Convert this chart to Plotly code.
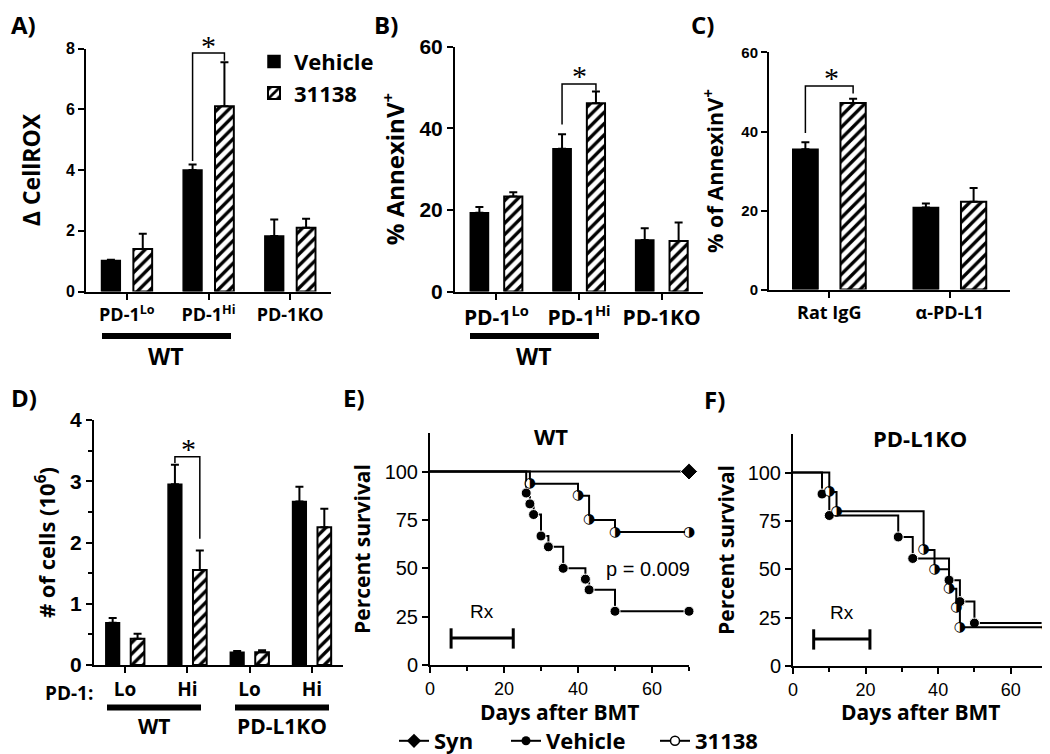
import plotly.graph_objects as go

W, H = 1050, 754


def fx(p):
    return p / W


def fy(p):
    return 1 - p / H


# ------------------------------------------------------------------ data
a_categories = ["PD-1<sup>Lo</sup>", "PD-1<sup>Hi</sup>", "PD-1KO"]
a_vehicle = [1.02, 4.0, 1.83]
a_vehicle_err = [0.03, 0.18, 0.54]
a_31138 = [1.40, 6.10, 2.10]
a_31138_err = [0.50, 1.45, 0.30]

b_categories = ["PD-1<sup>Lo</sup>", "PD-1<sup>Hi</sup>", "PD-1KO"]
b_vehicle = [19.3, 35.0, 12.6]
b_vehicle_err = [1.4, 3.5, 2.9]
b_31138 = [23.3, 46.1, 12.4]
b_31138_err = [1.0, 2.9, 4.5]

c_categories = ["Rat IgG", "α-PD-L1"]
c_vehicle = [35.5, 20.8]
c_vehicle_err = [1.8, 1.0]
c_31138 = [47.2, 22.2]
c_31138_err = [1.1, 3.5]

d_categories = ["Lo", "Hi", "Lo", "Hi"]
d_vehicle = [0.69, 2.95, 0.21, 2.67]
d_vehicle_err = [0.08, 0.32, 0.02, 0.24]
d_31138 = [0.43, 1.55, 0.21, 2.25]
d_31138_err = [0.08, 0.32, 0.03, 0.30]

# survival (WT)
e_syn_days = [0, 70]
e_syn_surv = [100, 100]
e_vehicle_days = [0, 26, 27, 28, 30, 32, 36, 42, 43, 50, 70]
e_vehicle_surv = [100, 88.9, 83.3, 77.8, 66.7, 61.1, 50.0, 44.4, 38.9, 27.8, 27.8]
e_31138_days = [0, 27, 40, 43, 50, 70]
e_31138_surv = [100, 93.75, 87.5, 75.0, 68.75, 68.75]

# survival (PD-L1KO)
f_vehicle_days = [0, 8, 10, 29, 33, 43, 46, 50, 70]
f_vehicle_surv = [100, 88.9, 77.8, 66.7, 55.6, 44.4, 33.3, 22.2, 22.2]
f_31138_days = [0, 10, 12, 36, 39, 43, 45, 46, 70]
f_31138_surv = [100, 90, 80, 60, 50, 40, 30, 20, 20]

rx_start_day = 5.7
rx_end_day_e = 22.5
rx_end_day_f = 21.2

# ------------------------------------------------------------------ style
BOLD = "Open Sans"
NUMF = "Liberation Sans, Arial"
REG = "Liberation Sans, Arial"

fig = go.Figure()


def ax_names(i):
    return ("x" if i == 1 else f"x{i}"), ("y" if i == 1 else f"y{i}")


def add_bar_panel(i, cats, veh, veh_err, trt, trt_err, sep, bw, showlegend):
    xa, ya = ax_names(i)
    xs = list(range(len(cats)))
    fig.add_trace(go.Bar(
        x=xs, y=veh, name="Vehicle", width=bw, offset=-sep - bw / 2,
        marker=dict(color="black", line=dict(color="black", width=1.5)),
        error_y=dict(type="data", symmetric=False, array=veh_err,
                     arrayminus=[0] * len(veh), color="black", thickness=2, width=4),
        xaxis=xa, yaxis=ya, showlegend=showlegend, legend="legend"))
    fig.add_trace(go.Bar(
        x=xs, y=trt, name="31138", width=bw, offset=sep - bw / 2,
        marker=dict(color="white", line=dict(color="black", width=2),
                    pattern=dict(shape="/", fgcolor="black", bgcolor="white",
                                 size=8, solidity=0.42)),
        error_y=dict(type="data", symmetric=False, array=trt_err,
                     arrayminus=[0] * len(trt), color="black", thickness=2, width=4),
        xaxis=xa, yaxis=ya, showlegend=showlegend, legend="legend"))


add_bar_panel(1, a_categories, a_vehicle, a_vehicle_err, a_31138, a_31138_err, 0.195, 0.23, True)
add_bar_panel(2, b_categories, b_vehicle, b_vehicle_err, b_31138, b_31138_err, 0.205, 0.22, False)
add_bar_panel(3, c_categories, c_vehicle, c_vehicle_err, c_31138, c_31138_err, 0.198, 0.21, False)
add_bar_panel(4, d_categories, d_vehicle, d_vehicle_err, d_31138, d_31138_err, 0.2, 0.22, False)


def add_survival(i, days, surv, kind, name):
    xa, ya = ax_names(i)
    sizes = [0] + [10] * (len(days) - 1)
    if kind == "syn":
        sizes = [0] * (len(days) - 1) + [13]
        marker = dict(symbol="diamond", color="black", size=sizes, opacity=1)
    elif kind == "veh":
        marker = dict(symbol="circle", color="black", size=sizes, opacity=1)
    else:
        marker = dict(symbol="circle", color="white", size=[s * 0.8 for s in sizes],
                      line=dict(width=0), opacity=1)
    fig.add_trace(go.Scatter(
        x=days, y=surv, mode="lines+markers", line=dict(shape="hv", color="black", width=2),
        marker=marker, cliponaxis=False, xaxis=xa, yaxis=ya, showlegend=False,
        name=name, hoverinfo="x+y"))
    if kind == "trt":
        fig.add_trace(go.Scatter(
            x=days[1:], y=surv[1:], mode="text", text=["◑"] * (len(days) - 1),
            textfont=dict(family="DejaVu Sans", size=14, color="black"),
            textposition="middle center", cliponaxis=False, xaxis=xa, yaxis=ya,
            showlegend=False, hoverinfo="skip"))


add_survival(5, e_syn_days, e_syn_surv, "syn", "Syn")
add_survival(5, e_vehicle_days, e_vehicle_surv, "veh", "Vehicle")
add_survival(5, e_31138_days, e_31138_surv, "trt", "31138")
add_survival(6, f_vehicle_days, f_vehicle_surv, "veh", "Vehicle")
add_survival(6, f_31138_days, f_31138_surv, "trt", "31138")

# legend-only entries for the survival legend (one legend each, for exact spacing)
for nm, mk, lg in [("Syn", dict(symbol="diamond", color="black", size=11), "legend2"),
                   ("Vehicle", dict(symbol="circle", color="black", size=9), "legend3"),
                   ("31138", dict(symbol="circle", color="white", size=9,
                                  line=dict(color="black", width=1.5)), "legend4")]:
    fig.add_trace(go.Scatter(x=[None], y=[None], mode="lines+markers", name=nm,
                             line=dict(color="black", width=2), marker=mk,
                             xaxis="x5", yaxis="y5", legend=lg, showlegend=True))

# ------------------------------------------------------------------ axes
layout = {}


def bar_axes(i, xpx, ypx, ncat, ticktext, ymax, dtick, ytf, xtf, title, tsize, standoff,
             minor=None):
    xk = "xaxis" if i == 1 else f"xaxis{i}"
    yk = "yaxis" if i == 1 else f"yaxis{i}"
    xa, ya = ax_names(i)
    layout[xk] = dict(domain=[fx(xpx[0]), fx(xpx[1])], anchor=ya, range=[-0.5, ncat - 0.5],
                      tickvals=list(range(ncat)), ticktext=ticktext, showline=True,
                      linewidth=2, linecolor="black", ticks="outside", ticklen=6,
                      tickwidth=2, tickcolor="black", showgrid=False, zeroline=False,
                      tickfont=dict(family=BOLD, size=xtf, color="black", weight="bold"),
                      fixedrange=True)
    yd = dict(domain=[fy(ypx[1]), fy(ypx[0])], anchor=xa, range=[0, ymax], dtick=dtick,
              showline=True, linewidth=2, linecolor="black", ticks="outside", ticklen=6,
              tickwidth=2, tickcolor="black", showgrid=False, zeroline=False,
              tickfont=dict(family=NUMF, size=ytf, color="black", weight="bold"),
              title=dict(text=title, standoff=standoff,
                         font=dict(family=BOLD, size=tsize, color="black", weight="bold")),
              fixedrange=True)
    if minor:
        yd["minor"] = minor
    layout[yk] = yd


bar_axes(1, (78, 323), (41, 287), 3, a_categories, 8, 2, 16, 18, "Δ CellROX", 23, 19)
bar_axes(2, (447, 695), (39, 287), 3, b_categories, 60, 20, 21, 21, "% AnnexinV<sup>+</sup>",
         24, 8)
bar_axes(3, (761, 1002), (45, 285), 2, c_categories, 60, 20, 15, 18,
         "% of AnnexinV<sup>+</sup>", 21.5, 12)
bar_axes(4, (86, 335), (417, 665), 4, d_categories, 4, 1, 21, 19, "# of cells (10<sup>6</sup>)",
         22, 8, minor=dict(dtick=0.5, ticklen=4, tickwidth=2, tickcolor="black",
                           ticks="outside"))


def surv_axes(i, xpx, ypx, standoff):
    xk, yk = f"xaxis{i}", f"yaxis{i}"
    xa, ya = ax_names(i)
    layout[xk] = dict(domain=[fx(xpx[0]), fx(xpx[1])], anchor=ya, range=[0, 70], dtick=20,
                      showline=True, linewidth=2, linecolor="black", ticks="outside",
                      ticklen=6, tickwidth=2, tickcolor="black", showgrid=False,
                      zeroline=False,
                      minor=dict(dtick=10, ticklen=4, tickwidth=2, tickcolor="black",
                                 ticks="outside"),
                      tickfont=dict(family=REG, size=18, color="black"),
                      fixedrange=True)
    layout[yk] = dict(domain=[fy(ypx[1]), fy(ypx[0])], anchor=xa, range=[0, 120],
                      tickvals=[0, 25, 50, 75, 100], showline=True, linewidth=2,
                      linecolor="black", ticks="outside", ticklen=6, tickwidth=2,
                      tickcolor="black", showgrid=False, zeroline=False,
                      tickfont=dict(family=REG, size=20, color="black"),
                      title=dict(text="Percent survival", standoff=standoff,
                                 font=dict(family=BOLD, size=21, color="black", weight="bold")),
                      fixedrange=True)


surv_axes(5, (422, 681), (430, 665), 8)
surv_axes(6, (785, 1039), (431, 666), 7)

fig.update_layout(**layout)

# ------------------------------------------------------------------ decorations
shapes = []
ann = []


def bracket(i, x0, y0, ytop, x1, y1):
    xa, ya = ax_names(i)
    shapes.append(dict(type="path", xref=xa, yref=ya,
                       path=f"M {x0},{y0} L {x0},{ytop} L {x1},{ytop} L {x1},{y1}",
                       line=dict(color="black", width=1.5)))


bracket(1, 0.805, 4.3, 7.85, 1.195, 7.6)
bracket(2, 0.795, 40.9, 50.8, 1.205, 49.2)
bracket(3, -0.198, 39.6, 51.5, 0.198, 49.6)
bracket(4, 0.8, 3.30, 3.40, 1.2, 2.06)

for (sx, sy) in [(200, 33), (571, 63), (823, 65), (180, 441)]:
    ann.append(dict(x=fx(sx), y=fy(sy + 5), xref="paper", yref="paper", text="*",
                    showarrow=False, xanchor="center", yanchor="middle",
                    font=dict(family="Liberation Serif", size=30, color="black")))

# group underlines
for (x0, x1, y) in [(94, 223, 332), (462, 591, 332), (99, 193, 708), (227, 321, 708)]:
    shapes.append(dict(type="line", xref="paper", yref="paper", x0=fx(x0), x1=fx(x1),
                       y0=fy(y), y1=fy(y), line=dict(color="black", width=6)))

for (t, x, y, s) in [("WT", 158, 352, 23), ("WT", 526, 352, 23), ("WT", 146, 727, 21),
                     ("PD-L1KO", 274, 727, 21), ("PD-1:", 61, 693, 19),
                     ("WT", 543, 433, 22), ("PD-L1KO", 912, 435, 22),
                     ("Days after BMT", 551, 712, 21), ("Days after BMT", 912, 712, 21)]:
    ann.append(dict(x=fx(x), y=fy(y), xref="paper", yref="paper", text=t, showarrow=False,
                    xanchor="center", yanchor="middle",
                    font=dict(family=BOLD, size=s, color="black", weight="bold")))

for (t, x, y) in [("A)", 1, 17), ("B)", 364, 17), ("C)", 681, 17), ("D)", 1, 394),
                  ("E)", 333, 394), ("F)", 694, 396)]:
    ann.append(dict(x=fx(x), y=fy(y), xref="paper", yref="paper", text=t, showarrow=False,
                    xanchor="left", yanchor="middle",
                    font=dict(family=BOLD, size=24, color="black", weight="bold")))

# Rx treatment bars
for (i, x1) in [(5, rx_end_day_e), (6, rx_end_day_f)]:
    xa, ya = ax_names(i)
    shapes.append(dict(type="path", xref=xa, yref=ya,
                       path=f"M {rx_start_day},14 L {x1},14", line=dict(color="black", width=3)))
    for xx in (rx_start_day, x1):
        shapes.append(dict(type="path", xref=xa, yref=ya,
                           path=f"M {xx},8.5 L {xx},19", line=dict(color="black", width=3)))
    ann.append(dict(x=(rx_start_day + x1) / 2, y=21, xref=xa, yref=ya, text="Rx",
                    showarrow=False, xanchor="center", yanchor="bottom",
                    font=dict(family=REG, size=19, color="black")))

ann.append(dict(x=59, y=49.5, xref="x5", yref="y5", text="p = 0.009", showarrow=False,
                xanchor="center", yanchor="middle", font=dict(family=REG, size=20, color="black")))

leg_common = dict(orientation="h", yanchor="middle", xanchor="left",
                  font=dict(family=BOLD, size=22, color="black", weight="bold"),
                  bgcolor="rgba(0,0,0,0)", borderwidth=0, itemwidth=30)

fig.update_layout(
    width=W, height=H, margin=dict(l=0, r=0, t=0, b=0), template="none",
    plot_bgcolor="white", paper_bgcolor="white", barmode="overlay",
    shapes=shapes, annotations=ann, showlegend=True,
    legend=dict(x=fx(246), y=fy(33), xanchor="left", yanchor="top",
                font=dict(family=BOLD, size=22, color="black", weight="bold"),
                bgcolor="rgba(0,0,0,0)", borderwidth=0, tracegroupgap=0,
                traceorder="normal", itemwidth=30),
    legend2=dict(x=fx(386), y=fy(742), **leg_common),
    legend3=dict(x=fx(498), y=fy(742), **leg_common),
    legend4=dict(x=fx(647), y=fy(742), **leg_common),
)

fig.write_html("out.html")
